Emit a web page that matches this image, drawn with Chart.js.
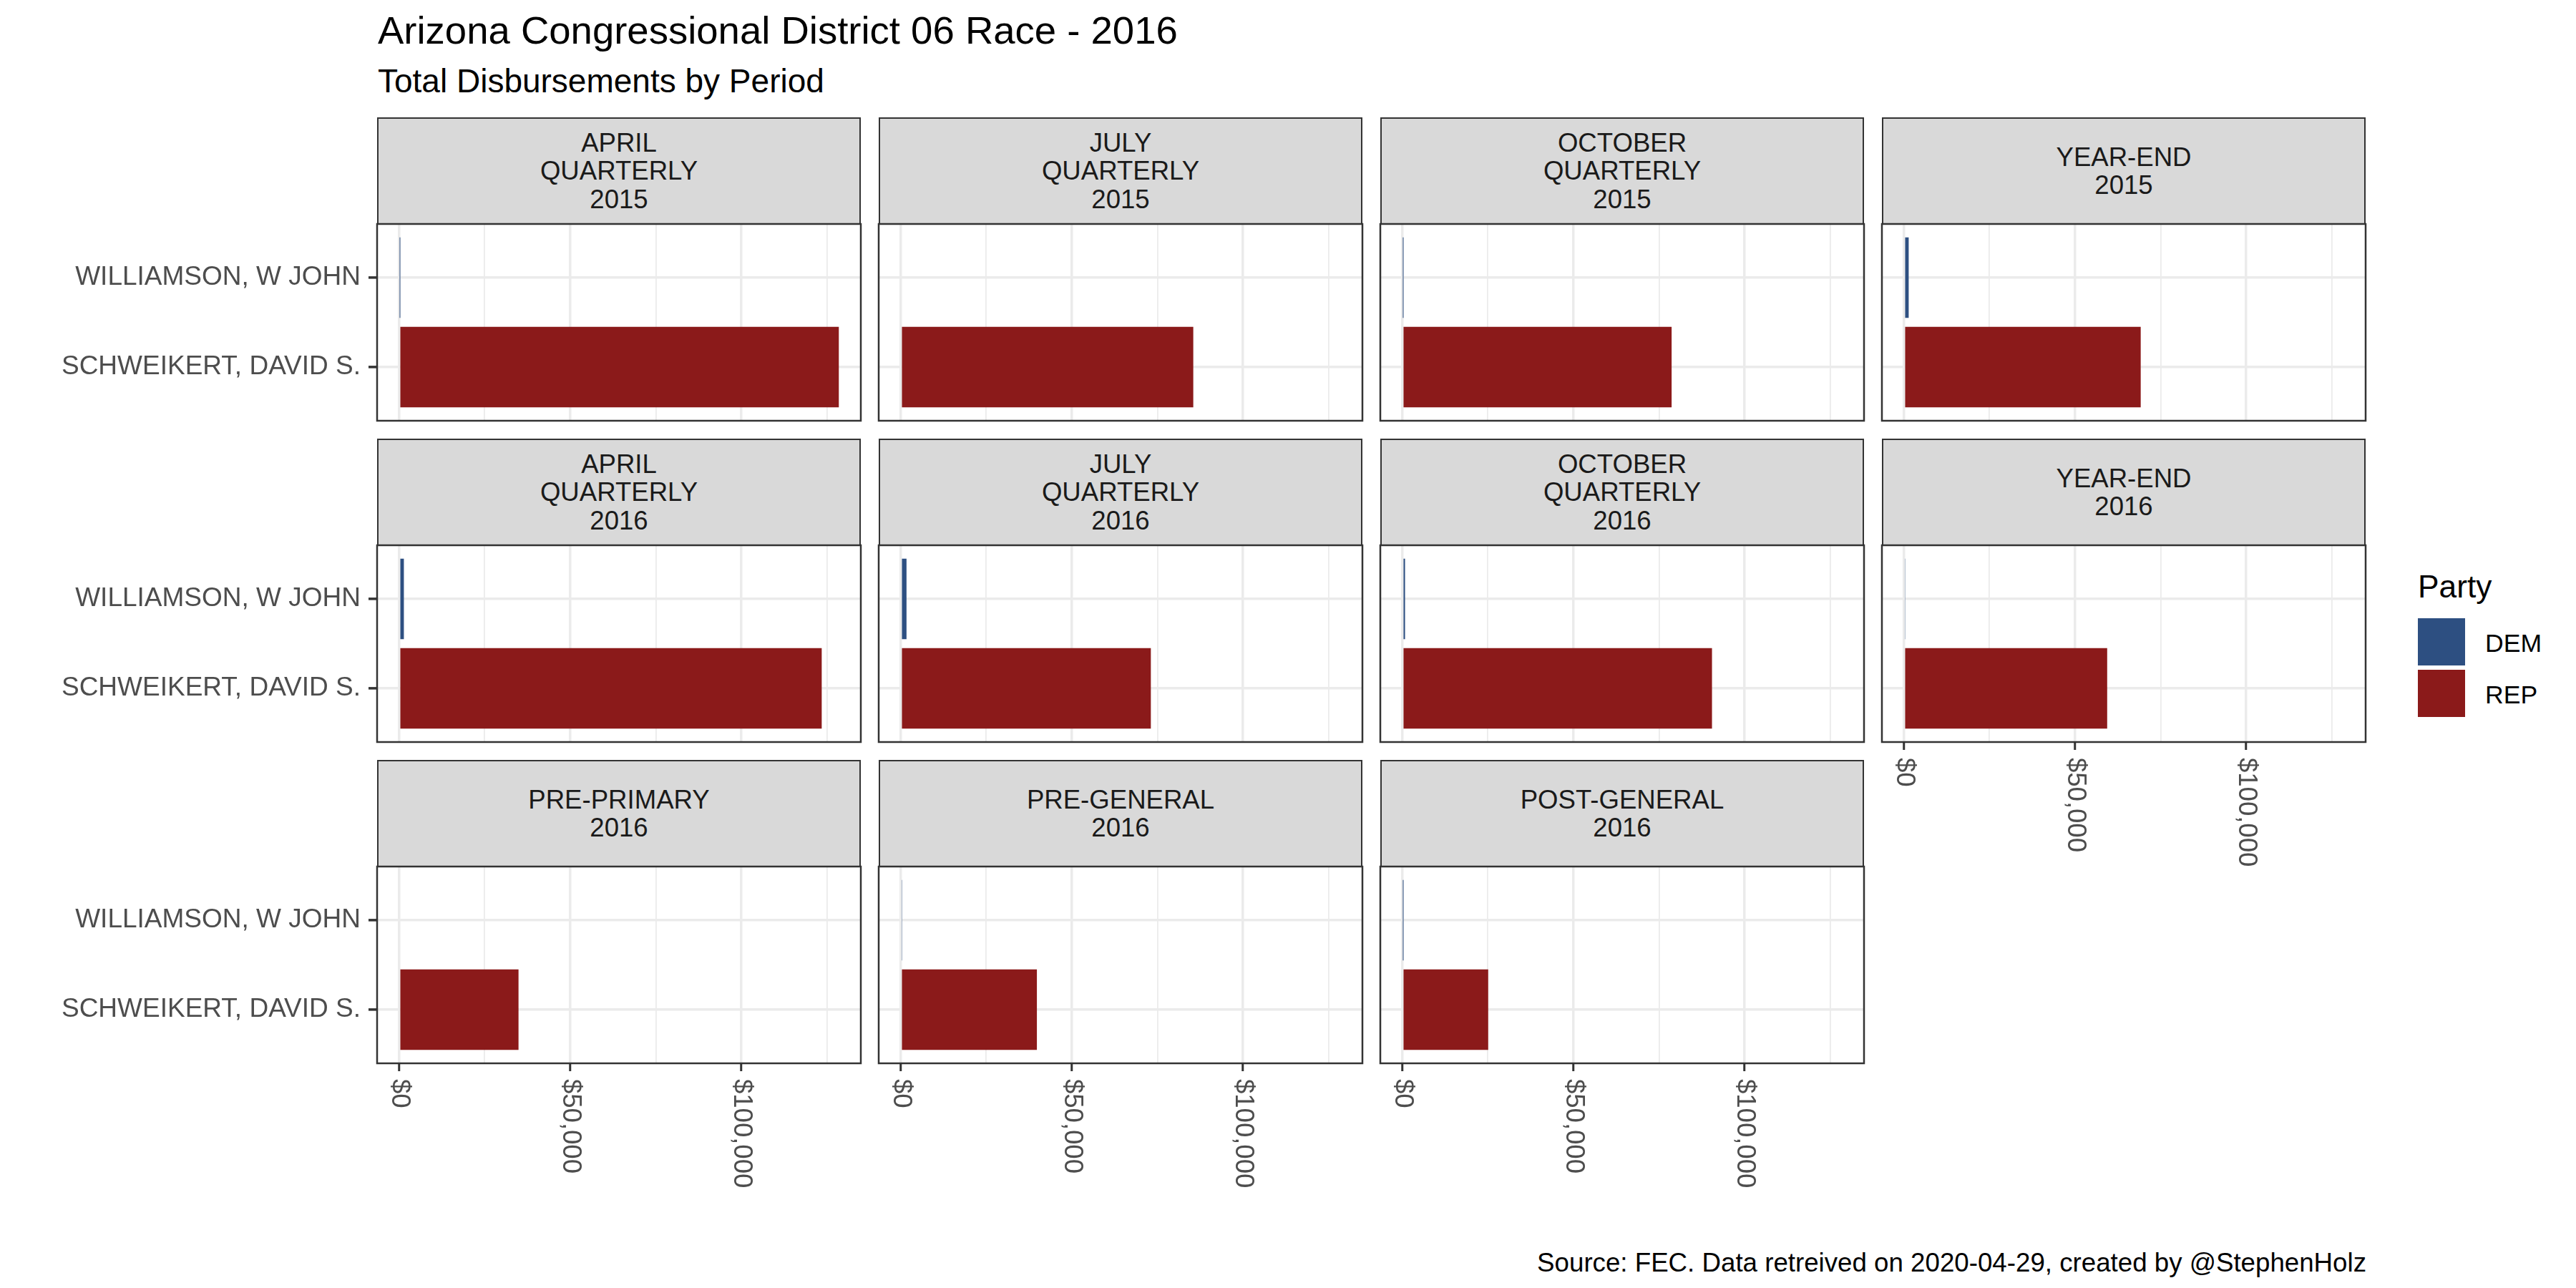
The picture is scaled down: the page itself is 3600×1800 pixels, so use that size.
<!DOCTYPE html>
<html>
<head>
<meta charset="utf-8">
<script src="https://cdn.jsdelivr.net/npm/chart.js@4.4.1/dist/chart.umd.min.js"></script>
<style>
html, body { margin: 0; padding: 0; background: #ffffff; }
#root { position: relative; width: 3600px; height: 1800px; overflow: hidden; background: #ffffff;
  font-family: "Liberation Sans", Arial, Helvetica, sans-serif; }
.txt { position: absolute; white-space: nowrap; line-height: 1; }
.strip { position: absolute; box-sizing: border-box; background: #D9D9D9; border: 2.5px solid #333333;
  display: flex; align-items: center; justify-content: center; text-align: center;
  font-size: 36.6px; line-height: 39.5px; color: #1A1A1A; white-space: pre; }
canvas { position: absolute; }
.key { position: absolute; }
</style>
</head>
<body>
<div id="root"></div>
<script>
// ---------------- data ----------------
const candidates = ['WILLIAMSON, W JOHN', 'SCHWEIKERT, DAVID S.'];
const periods = [
  'APRIL\nQUARTERLY\n2015', 'JULY\nQUARTERLY\n2015', 'OCTOBER\nQUARTERLY\n2015', 'YEAR-END\n2015',
  'APRIL\nQUARTERLY\n2016', 'JULY\nQUARTERLY\n2016', 'OCTOBER\nQUARTERLY\n2016', 'YEAR-END\n2016',
  'PRE-PRIMARY\n2016', 'PRE-GENERAL\n2016', 'POST-GENERAL\n2016'
];
const demValues = [150, null, 150, 1400, 1400, 1700, 800, 300, null, 450, 150];
const repValues = [128500, 85500, 78700, 69200, 123500, 73100, 90500, 59400, 34900, 39800, 25100];
const partyNames = ['DEM', 'REP'];
const partyColors = ['#2D4F81', '#8B1A1A'];
const xTickValues = [0, 50000, 100000];
const xTickLabels = ['$0', '$50,000', '$100,000'];
const xMinorValues = [25000, 75000, 125000];
const titleText = 'Arizona Congressional District 06 Race - 2016';
const subtitleText = 'Total Disbursements by Period';
const captionText = 'Source: FEC. Data retreived on 2020-04-29, created by @StephenHolz';
const legendTitle = 'Party';

// ---------------- layout ----------------
const FONT = '"Liberation Sans", Arial, Helvetica, sans-serif';
const root = document.getElementById('root');
const colLeft = [527, 1228, 1929, 2630];
const rowTop = [164, 613, 1062];
const panelW = 676, stripH = 149, plotH = 275, pad = 4, axisH = 190;

function addText(txt, left, baseline, size, color, opts) {
  const d = document.createElement('div');
  d.className = 'txt';
  d.textContent = txt;
  d.style.fontSize = size + 'px';
  d.style.color = color;
  d.style.top = (baseline - 0.8465 * size) + 'px';
  if (opts && opts.right !== undefined) { d.style.right = (3600 - opts.right) + 'px'; }
  else d.style.left = left + 'px';
  root.appendChild(d);
  return d;
}

addText(titleText, 528, 62, 54.5, '#000000');
addText(subtitleText, 528, 129, 46, '#000000');
addText(captionText, 0, 1778, 36.7, '#000000', { right: 3307 });

// legend
addText(legendTitle, 3379, 835, 44.3, '#000000');
const keyTops = [864, 936];
partyNames.forEach((p, i) => {
  const k = document.createElement('div');
  k.className = 'key';
  k.style.left = '3379px'; k.style.top = keyTops[i] + 'px';
  k.style.width = '66px'; k.style.height = '66px';
  k.style.background = partyColors[i];
  root.appendChild(k);
  addText(p, 3473, keyTops[i] + 48, 35.6, '#000000');
});

const allVals = repValues.concat(demValues.filter(v => v !== null));
const maxVal = Math.max.apply(null, allVals);

const panelPlugin = {
  id: 'panelDeco',
  afterDraw(chart, args, opts) {
    const ctx = chart.ctx, a = chart.chartArea;
    ctx.save();
    ctx.strokeStyle = '#333333';
    ctx.lineWidth = 2.5;
    ctx.strokeRect(a.left, a.top, a.right - a.left, a.bottom - a.top);
    if (opts.yTicks) {
      const ys = chart.scales.y;
      ctx.lineWidth = 3;
      candidates.forEach((c, k) => {
        const py = ys.getPixelForValue(k);
        ctx.beginPath();
        ctx.moveTo(a.left - 12, py);
        ctx.lineTo(a.left, py);
        ctx.stroke();
      });
    }
    if (opts.axisLabels) {
      const xs = chart.scales.x;
      ctx.fillStyle = '#4D4D4D';
      ctx.font = '36.5px ' + FONT;
      ctx.textAlign = 'left';
      ctx.textBaseline = 'middle';
      xTickValues.forEach((v, i) => {
        const px = xs.getPixelForValue(v);
        ctx.save();
        ctx.translate(px, xs.top + 22);
        ctx.rotate(Math.PI / 2);
        ctx.fillText(xTickLabels[i], 0, 0);
        ctx.restore();
      });
    }
    ctx.restore();
  }
};

function isMajor(v) { return xTickValues.indexOf(v) >= 0; }

periods.forEach((per, i) => {
  const row = Math.floor(i / 4), col = i % 4;
  const hasAxis = row === 2 || (row === 1 && col === 3);
  const hasY = col === 0;
  const plotTop = rowTop[row] + stripH;

  // strip
  const s = document.createElement('div');
  s.className = 'strip';
  s.style.left = colLeft[col] + 'px';
  s.style.top = rowTop[row] + 'px';
  s.style.width = panelW + 'px';
  s.style.height = (stripH + 1) + 'px';
  s.textContent = per;
  root.appendChild(s);

  // canvas
  const L = hasY ? colLeft[0] : pad;
  const B = hasAxis ? axisH : pad;
  const cv = document.createElement('canvas');
  const W = L + panelW + pad, H = pad + plotH + B;
  cv.width = W; cv.height = H;
  cv.style.width = W + 'px'; cv.style.height = H + 'px';
  cv.style.left = (colLeft[col] - L) + 'px';
  cv.style.top = (plotTop - pad) + 'px';
  root.appendChild(cv);

  new Chart(cv.getContext('2d'), {
    type: 'bar',
    data: {
      datasets: [{
        data: [{ x: demValues[i], y: 0 }, { x: repValues[i], y: 1 }],
        backgroundColor: partyColors,
        borderWidth: 0,
        categoryPercentage: 1,
        barPercentage: 0.9
      }]
    },
    options: {
      indexAxis: 'y',
      responsive: false,
      animation: false,
      devicePixelRatio: 1,
      layout: { padding: { top: pad, right: pad, left: 0, bottom: 0 } },
      plugins: {
        legend: { display: false },
        tooltip: { enabled: false },
        panelDeco: { axisLabels: hasAxis, yTicks: hasY }
      },
      scales: {
        x: {
          type: 'linear',
          position: 'bottom',
          offset: false,
          min: -0.05 * maxVal,
          max: 1.05 * maxVal,
          afterBuildTicks: (sc) => {
            sc.ticks = xTickValues.concat(xMinorValues).sort((a, b) => a - b).map(v => ({ value: v }));
          },
          ticks: { display: false },
          grid: {
            offset: false,
            color: '#EBEBEB',
            lineWidth: (c) => (c.tick && isMajor(c.tick.value)) ? 3.5 : 1.8,
            drawTicks: hasAxis,
            tickLength: 11,
            tickWidth: 3,
            tickColor: (c) => (c.tick && isMajor(c.tick.value)) ? '#333333' : 'rgba(0,0,0,0)'
          },
          border: { display: false },
          afterFit: (sc) => { sc.height = B; sc.paddingLeft = 0; sc.paddingRight = 0; }
        },
        y: {
          type: 'linear',
          offset: false,
          min: -0.6,
          max: 1.6,
          reverse: true,
          afterBuildTicks: (sc) => { sc.ticks = candidates.map((c, k) => ({ value: k })); },
          ticks: {
            display: hasY,
            callback: (v) => candidates[v],
            color: '#4D4D4D',
            font: { family: FONT, size: 37 },
            padding: 11
          },
          grid: {
            offset: false,
            color: '#EBEBEB',
            lineWidth: 3.5,
            drawTicks: hasY,
            tickLength: 12,
            tickWidth: 3,
            tickColor: '#333333'
          },
          border: { display: false },
          afterFit: (sc) => { sc.width = L; sc.paddingTop = 0; sc.paddingBottom = 0; }
        }
      }
    },
    plugins: [panelPlugin]
  });
});
</script>
</body>
</html>
